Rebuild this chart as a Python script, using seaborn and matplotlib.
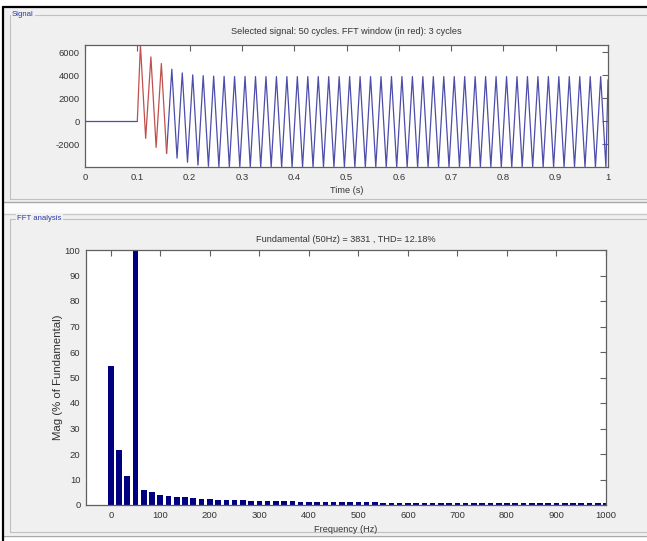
import matplotlib
matplotlib.use("Agg")
import matplotlib.pyplot as plt
import seaborn as sns
import pandas as pd
from matplotlib.patches import Rectangle
from matplotlib.lines import Line2D

# ---------------- data ----------------
# Signal: per-cycle extrema (50 Hz, starts at t = 0.1 s)
sig_peaks = [6620, 5590, 5010, 4520, 4200, 4030, 3960, 3920, 3900, 3890,
             3890, 3880, 3880, 3880, 3880, 3880, 3880, 3880, 3880, 3880,
             3880, 3880, 3880, 3880, 3880, 3880, 3880, 3880, 3880, 3880,
             3880, 3880, 3880, 3880, 3880, 3880, 3880, 3880, 3880, 3880,
             3880, 3880, 3880, 3880, 3880]
sig_troughs = [-1480, -2260, -2780, -3190, -3550, -3800, -3900, -3940, -3950, -3960,
               -3960, -3960, -3960, -3960, -3960, -3960, -3960, -3960, -3960, -3960,
               -3960, -3960, -3960, -3960, -3960, -3960, -3960, -3960, -3960, -3960,
               -3960, -3960, -3960, -3960, -3960, -3960, -3960, -3960, -3960, -3960,
               -3960, -3960, -3960, -3960, -3960]
sig_start = 0.1
sig_period = 0.02
fft_window_cycles = 3

# FFT (window of 3 cycles -> 16.67 Hz bins)
freq_hz = [0, 16.67, 33.33, 50, 66.67, 83.33, 100, 116.67, 133.33, 150,
           166.67, 183.33, 200, 216.67, 233.33, 250, 266.67, 283.33, 300, 316.67,
           333.33, 350, 366.67, 383.33, 400, 416.67, 433.33, 450, 466.67, 483.33,
           500, 516.67, 533.33, 550, 566.67, 583.33, 600, 616.67, 633.33, 650,
           666.67, 683.33, 700, 716.67, 733.33, 750, 766.67, 783.33, 800, 816.67,
           833.33, 850, 866.67, 883.33, 900, 916.67, 933.33, 950, 966.67, 983.33,
           1000]
mag_pct = [54.5, 21.5, 11.5, 100, 6.0, 5.0, 4.0, 3.6, 3.3, 3.0,
           2.6, 2.5, 2.3, 2.1, 1.9, 1.8, 1.8, 1.6, 1.6, 1.5,
           1.4, 1.4, 1.4, 1.2, 1.2, 1.1, 1.1, 1.1, 1.0, 1.0,
           1.0, 1.0, 1.0, 0.9, 0.9, 0.9, 0.9, 0.9, 0.8, 0.8,
           0.8, 0.8, 0.8, 0.8, 0.8, 0.8, 0.8, 0.8, 0.8, 0.8,
           0.8, 0.7, 0.7, 0.7, 0.7, 0.7, 0.7, 0.7, 0.7, 0.7,
           0.7]

sig_title = "Selected signal: 50 cycles. FFT window (in red): 3 cycles"
fft_title = "Fundamental (50Hz) = 3831 , THD= 12.18%"

# ---------------- build signal polyline ----------------
t_all = [0.0, sig_start]
v_all = [0.0, 0.0]
for k, (p, q) in enumerate(zip(sig_peaks, sig_troughs)):
    t_all += [sig_start + sig_period * k + 0.006, sig_start + sig_period * k + 0.016]
    v_all += [p, q]
t_all.append(1.0)
v_all.append(3600)
df = pd.DataFrame({"t": t_all, "v": v_all})
n_red_end = 2 + 2 * fft_window_cycles  # index after last red trough
df_blue1 = df.iloc[:2]
df_red = df.iloc[1:n_red_end]
df_blue2 = df.iloc[n_red_end - 1:]
df_fft = pd.DataFrame({"f": freq_hz, "m": mag_pct})

# ---------------- style ----------------
sns.set_style("white")
plt.rcParams["font.family"] = ["Liberation Sans", "DejaVu Sans"]
plt.rcParams["axes.unicode_minus"] = False

W, H = 647, 541
fig = plt.figure(figsize=(W / 100, H / 100), dpi=100, facecolor="white")


def fx(x):
    return x / W


def fy(y):
    return 1 - y / H


def frect(x0, y0, x1, y1, **kw):
    fig.patches.append(Rectangle((fx(x0), fy(y1)), fx(x1) - fx(x0), fy(y0) - fy(y1),
                                 transform=fig.transFigure, zorder=-10, **kw))


def fline(xs, ys, **kw):
    fig.lines.append(Line2D([fx(x) for x in xs], [fy(y) for y in ys],
                            transform=fig.transFigure, zorder=-5, **kw))


PANEL = "#f0f0f0"
# gray panels
frect(3, 8, W + 2, 202, facecolor=PANEL, edgecolor="none")
frect(3, 214, W + 2, 535, facecolor=PANEL, edgecolor="none")
frect(3, 202, W + 2, 214, facecolor="#fbfbfb", edgecolor="none")
fline([3, W], [202, 202], color="#a8a8a8", lw=1.0)
fline([3, W], [214, 214], color="#c8c8c8", lw=1.0)
fline([3, W], [535.5, 535.5], color="#a8a8a8", lw=1.0)
# outer black border
fline([2.5, W], [7, 7], color="black", lw=1.6)
fline([2.5, 2.5], [7, H], color="black", lw=1.6)
# etched group frames
for (y0, y1) in [(15, 199), (219, 532)]:
    fline([10, W + 2], [y0, y0], color="#c0c0c0", lw=0.8)
    fline([10, 10], [y0, y1], color="#c0c0c0", lw=0.8)
    fline([10, W + 2], [y1, y1], color="#c0c0c0", lw=0.8)
fig.text(fx(12), fy(15), "Signal", color="#2d3aa0", fontsize=5.6, va="center", ha="left",
         bbox=dict(facecolor=PANEL, edgecolor="none", pad=1))
fig.text(fx(17), fy(219), "FFT analysis", color="#2d3aa0", fontsize=5.6, va="center", ha="left",
         bbox=dict(facecolor=PANEL, edgecolor="none", pad=1))

TICK_C = "#353535"
SPINE_C = "#606060"


def style_axes(ax):
    ax.set_zorder(1)
    for s in ax.spines.values():
        s.set_visible(True)
        s.set_color(SPINE_C)
        s.set_linewidth(0.9)
    ax.tick_params(direction="in", length=4, width=0.8, color=SPINE_C,
                   top=True, right=True, labelsize=6.8, labelcolor=TICK_C, pad=4)


# ---------------- signal axes ----------------
ax1 = fig.add_axes([fx(85), fy(167), fx(608) - fx(85), fy(45) - fy(167)], facecolor="white")
style_axes(ax1)
BLUE = "#4d4daa"
RED = "#c0504d"
sns.lineplot(data=df_blue1, x="t", y="v", ax=ax1, color=BLUE, lw=0.9, sort=False, estimator=None)
sns.lineplot(data=df_blue2, x="t", y="v", ax=ax1, color=BLUE, lw=0.9, sort=False, estimator=None)
sns.lineplot(data=df_red, x="t", y="v", ax=ax1, color=RED, lw=0.9, sort=False, estimator=None)
ax1.set_xlim(0, 1)
ax1.set_ylim(min(v_all), max(v_all))
ax1.set_xticks([i / 10 for i in range(11)])
ax1.set_xticklabels(["0"] + [f"{i/10:.1f}" for i in range(1, 10)] + ["1"])
ax1.set_yticks([-2000, 0, 2000, 4000, 6000])
ax1.set_yticklabels(["-2000", "0", "2000", "4000", "6000"])
ax1.set_xlabel("Time (s)", fontsize=6.6, color=TICK_C, labelpad=3)
ax1.set_ylabel("")
fig.text((fx(85) + fx(608)) / 2, fy(32), sig_title, ha="center", va="center",
         fontsize=6.6, color=TICK_C)

# ---------------- FFT axes ----------------
ax2 = fig.add_axes([fx(86), fy(505), fx(606) - fx(86), fy(250) - fy(505)], facecolor="white")
style_axes(ax2)
sns.barplot(data=df_fft, x="f", y="m", ax=ax2, native_scale=True, color="#000080",
            saturation=1, width=0.68, edgecolor="none", linewidth=0)
ax2.set_xlim(-50, 1000)
ax2.set_ylim(0, 100)
ax2.set_xticks(list(range(0, 1001, 100)))
ax2.set_xticklabels([str(v) for v in range(0, 1001, 100)])
ax2.set_yticks(list(range(0, 101, 10)))
ax2.set_yticklabels([str(v) for v in range(0, 101, 10)])
ax2.set_xlabel("Frequency (Hz)", fontsize=6.6, color=TICK_C, labelpad=4)
ax2.set_ylabel("Mag (% of Fundamental)", fontsize=8.2, color="#303030", labelpad=1)
fig.text((fx(86) + fx(606)) / 2, fy(239), fft_title, ha="center", va="center",
         fontsize=6.6, color=TICK_C)

fig.savefig("out.png", dpi=100, facecolor="white")
